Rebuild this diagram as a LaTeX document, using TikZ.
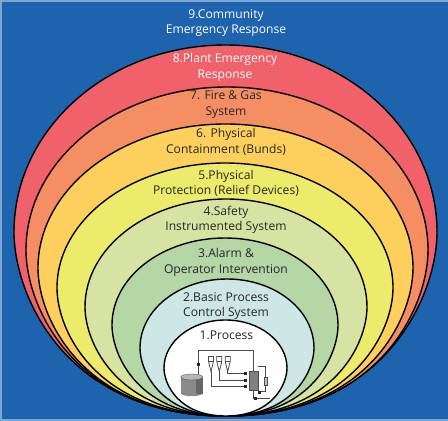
\documentclass[tikz,border=0pt]{standalone}
\usepackage{fontspec}
\setmainfont{Open Sans}
\definecolor{bgblue}{HTML}{1E63AE}
\definecolor{edgeblue}{HTML}{7FA6D0}
\definecolor{c8}{HTML}{F0616A}
\definecolor{c7}{HTML}{F58F63}
\definecolor{c6}{HTML}{FDD05E}
\definecolor{c5}{HTML}{EDEB6C}
\definecolor{c4}{HTML}{D7E3A3}
\definecolor{c3}{HTML}{B5D7A5}
\definecolor{c2}{HTML}{CDE6E6}
\definecolor{iconline}{HTML}{4A4A4A}
\definecolor{tankside}{HTML}{8A8A8A}
\definecolor{tanktop}{HTML}{B5B5B5}
\tikzset{
  x=1pt,y=-1pt,
  lbl/.style={align=center,font=\fontsize{12.1}{15.3}\selectfont,text=black!85,inner sep=0pt},
  lblw/.style={lbl,text=white},
  ring/.style={draw=black,line width=1.4pt},
  pipe/.style={draw=iconline,line width=0.8pt},
  blk/.style={fill=black!85,draw=none}
}
% \egg{fill}{top}{mid}{left}{right}
\newcommand{\egg}[5]{%
  \pgfmathsetmacro{\kt}{0.5523*(#3-#2)}
  \pgfmathsetmacro{\kb}{0.34*(416-#3)}
  \pgfmathsetmacro{\cxx}{(#4+#5)/2}
  \pgfmathsetmacro{\klx}{0.5523*(\cxx-#4)}
  \pgfmathsetmacro{\kbx}{0.76*(\cxx-#4)}
  \path[ring,fill=#1] (#4,#3)
    .. controls (#4,#3-\kt) and (\cxx-\klx,#2) .. (\cxx,#2)
    .. controls (\cxx+\klx,#2) and (#5,#3-\kt) .. (#5,#3)
    .. controls (#5,#3+\kb) and (\cxx+\kbx,416) .. (226,416)
    .. controls (\cxx-\kbx,416) and (#4,#3+\kb) .. (#4,#3) -- cycle;
}
\begin{document}
\begin{tikzpicture}
\useasboundingbox (0,0) rectangle (448,421);
\fill[edgeblue] (0,0) rectangle (448,421);
\fill[bgblue] (2,2) rectangle (448,419);
\egg{c8}{45}{232}{14}{437}
\egg{c7}{87}{250}{26}{428}
\egg{c6}{124}{268}{38}{413}
\egg{c5}{163}{288}{57}{393}
\egg{c4}{199}{307}{85}{367}
\egg{c3}{238}{325}{112}{338}
\egg{c2}{279}{348}{140}{314}
\egg{white}{320}{368}{164}{287}
% labels
\node[lblw] (t9) at (226,23) {9.Community\\Emergency Response};
\node[lblw] (t8) at (225,67.5) {8.Plant Emergency\\Response};
\node[lbl] (t7) at (226,104.5) {7. Fire \& Gas\\System};
\node[lbl] (t6) at (226,142) {6. Physical\\Containment (Bunds)};
\node[lbl] (t5) at (226,183.5) {5.Physical\\Protection (Relief Devices)};
\node[lbl] (t4) at (226,219.5) {4.Safety\\Instrumented System};
\node[lbl] (t3) at (226,262.5) {3.Alarm \&\\Operator Intervention};
\node[lbl] (t2) at (226,306) {2.Basic Process\\Control System};
\node[lbl] (t1) at (226.5,335) {1.Process};
% process icon
\draw[pipe] (198.3,375) -- (198.3,350) -- (253.3,350) -- (253.3,371);
\draw[pipe] (211,371) -- (211,386) -- (245,386);
\draw[pipe] (219.3,371) -- (219.3,380) -- (245,380);
\draw[pipe] (227.7,371) -- (227.7,373.5) -- (245,373.5);
\draw[pipe] (258,366.5) -- (265.7,366.5) -- (265.7,391.5) -- (258,391.5);
\draw[pipe] (253.3,390) -- (253.3,398) -- (270,398);
\foreach \fx in {211,219.3,227.7}{
  \draw[pipe,fill=white] (\fx-2.5,356.5) -- (\fx+2.5,356.5) -- (\fx+2.5,361.5) -- (\fx,371.5) -- (\fx-2.5,361.5) -- cycle;
  \draw[pipe] (\fx-2.5,361.5) -- (\fx+2.5,361.5);
}
\fill[tankside] (180.7,377) rectangle (202.7,393);
\fill[tankside] (191.7,393) ellipse [x radius=11,y radius=3.2];
\fill[black!60] (196,378) rectangle (202.7,393.5);
\fill[tanktop,draw=iconline,line width=0.3pt] (191.7,377) ellipse [x radius=11,y radius=3];
\fill[iconline!70,draw=iconline,line width=0.6pt] (249.3,371) rectangle (258.3,390);
\draw[pipe,fill=white!75!black] (264.2,377.5) rectangle (267.2,385);
\fill[blk] (196.8,362.5) rectangle (199.8,366);
\fill[blk] (243.5,372) rectangle (246.5,375);
\fill[blk] (243.5,378.5) rectangle (246.5,381.5);
\fill[blk] (243.5,384.5) rectangle (246.5,387.5);
\fill[blk] (257.5,391) rectangle (260.5,394);
\fill[blk] (254,396.5) rectangle (257,399.5);
\end{tikzpicture}
\end{document}
